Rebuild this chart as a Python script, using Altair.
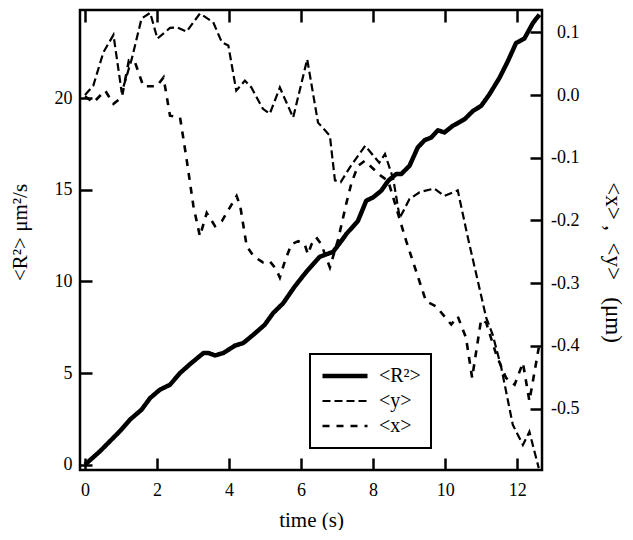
import altair as alt
import pandas as pd

# ---- data ----
t_r2 = [0, 0.42, 0.97, 1.25, 1.57, 1.81, 2.08, 2.36, 2.64, 2.92, 3.29, 3.43, 3.61, 3.84,
        4.17, 4.39, 4.67, 4.99, 5.22, 5.5, 5.82, 6.15, 6.52, 6.89, 7.17, 7.26, 7.58, 7.81,
        8.0, 8.23, 8.42, 8.64, 8.78, 9.01, 9.24, 9.43, 9.61, 9.80, 9.98, 10.21, 10.54,
        10.77, 11.0, 11.23, 11.51, 11.74, 11.97, 12.2, 12.44, 12.62]
r2 = [0, 0.74, 1.83, 2.46, 3.0, 3.64, 4.09, 4.36, 5.0, 5.49, 6.09, 6.09, 5.96, 6.09,
      6.5, 6.63, 7.08, 7.63, 8.26, 8.8, 9.71, 10.53, 11.34, 11.61, 12.34, 12.59, 13.3, 14.4,
      14.58, 14.95, 15.49, 15.85, 15.85, 16.3, 17.3, 17.7, 17.84, 18.24, 18.12, 18.48, 18.84,
      19.29, 19.57, 20.2, 21.1, 22.0, 23.0, 23.24, 24.1, 24.55]

t_y = [0, 0.23, 0.51, 0.79, 1.02, 1.30, 1.57, 1.81, 2.01, 2.36, 2.55, 2.82, 3.19, 3.56,
       3.80, 3.98, 4.2, 4.44, 4.62, 4.94, 5.13, 5.41, 5.78, 6.17, 6.47, 6.8, 6.94, 7.10,
       7.36, 7.78, 8.17, 8.33, 8.56, 8.74, 9.01, 9.29, 9.70, 9.98, 10.35, 10.63, 11.14,
       11.32, 11.56, 11.88, 12.16, 12.34, 12.6]
y_mean = [0.0, 0.015, 0.068, 0.096, 0.004, 0.058, 0.122, 0.131, 0.090, 0.107, 0.108, 0.101,
          0.130, 0.116, 0.084, 0.079, 0.007, 0.023, 0.012, -0.022, -0.030, 0.012, -0.036,
          0.057, -0.044, -0.065, -0.136, -0.139, -0.115, -0.081, -0.108, -0.094, -0.134,
          -0.196, -0.166, -0.155, -0.149, -0.161, -0.152, -0.227, -0.355, -0.382, -0.435,
          -0.526, -0.558, -0.537, -0.595]

t_x = [0, 0.23, 0.56, 0.79, 1.02, 1.22, 1.39, 1.62, 1.99, 2.18, 2.36, 2.64, 2.82, 3.01,
       3.19, 3.38, 3.61, 3.80, 4.21, 4.31, 4.49, 4.68, 4.94, 5.13, 5.31, 5.41, 5.55, 5.73,
       5.92, 6.10, 6.19, 6.29, 6.42, 6.56, 6.80, 7.03, 7.26, 7.40, 7.58, 7.77, 8.22, 8.42,
       8.92, 9.47, 9.75, 10.17, 10.35, 10.58, 10.75, 11.0, 11.14, 11.42, 11.69, 11.93,
       12.16, 12.34, 12.6]
x_mean = [-0.002, -0.012, 0.007, -0.014, -0.004, 0.055, 0.052, 0.014, 0.014, 0.028, -0.033,
          -0.036, -0.102, -0.177, -0.225, -0.188, -0.209, -0.201, -0.161, -0.177, -0.241,
          -0.257, -0.267, -0.265, -0.278, -0.291, -0.265, -0.238, -0.233, -0.238, -0.254,
          -0.238, -0.227, -0.238, -0.275, -0.23, -0.172, -0.140, -0.113, -0.105, -0.129,
          -0.137, -0.233, -0.329, -0.337, -0.366, -0.353, -0.387, -0.451, -0.358, -0.363,
          -0.414, -0.451, -0.462, -0.427, -0.488, -0.403]

series = ["<R²>", "<y>", "<x>"]
x_ticks = [0, 2, 4, 6, 8, 10, 12]
left_ticks = [0, 5, 10, 15, 20]
right_ticks = [0.1, 0.0, -0.1, -0.2, -0.3, -0.4, -0.5]

FONT = "Liberation Serif"

df_r2 = pd.DataFrame({"t": t_r2, "v": r2, "series": series[0]})
df_xy = pd.concat([
    pd.DataFrame({"t": t_y, "v": y_mean, "series": series[1]}),
    pd.DataFrame({"t": t_x, "v": x_mean, "series": series[2]}),
])

x_scale = alt.Scale(domain=[-0.139, 12.69], nice=False, zero=False)
dash = alt.StrokeDash("series:N",
                      scale=alt.Scale(domain=series, range=[[1, 0], [8, 4], [7, 7]]),
                      legend=alt.Legend(title=None))
swidth = alt.StrokeWidth("series:N",
                         scale=alt.Scale(type="ordinal", domain=series, range=[4.5, 2.2, 2.6]),
                         legend=alt.Legend(title=None))

r2_layer = alt.Chart(df_r2).mark_line(color="black", strokeJoin="round").encode(
    x=alt.X("t:Q", scale=x_scale,
            axis=alt.Axis(orient="bottom", values=x_ticks, title="time (s)", offset=-12,
                          tickSize=12, labelPadding=11, titlePadding=10, format="d")),
    y=alt.Y("v:Q", scale=alt.Scale(domain=[-0.29, 24.8], nice=False, zero=False),
            axis=alt.Axis(orient="left", values=left_ticks, title="<R²> μm²/s", offset=-12,
                          tickSize=12, labelPadding=8, titlePadding=24, format="d",
                          titleY=222, titleAlign="center")),
    strokeDash=dash,
    strokeWidth=swidth,
)

xy_layer = alt.Chart(df_xy).mark_line(color="black", strokeCap="butt").encode(
    x=alt.X("t:Q", scale=x_scale,
            axis=alt.Axis(orient="top", values=x_ticks, title=None, labels=False,
                          offset=-12, tickSize=12)),
    y=alt.Y("v:Q", scale=alt.Scale(domain=[-0.598, 0.1356], nice=False, zero=False),
            axis=alt.Axis(orient="right", values=right_ticks,
                          title="<x>\u00a0,\u00a0 <y>\u00a0\u00a0 (μm)",
                          titleFontSize=23,
                          offset=-12, tickSize=12, labelPadding=37, labelAlign="right",
                          titlePadding=21, titleAngle=90, titleY=252,
                          labelExpr="replace(format(datum.value, '.1f'), '−', '-')")),
    strokeDash=dash,
    strokeWidth=swidth,
)

chart = alt.layer(r2_layer, xy_layer).resolve_scale(
    y="independent"
).resolve_axis(
    x="independent", y="independent"
).properties(
    width=462, height=460,
    padding={"left": 72, "top": 2, "right": 83, "bottom": 60},
    autosize="none",
).configure_view(
    stroke="black", strokeWidth=2.5
).configure_axis(
    domain=False, grid=False, tickColor="black", tickWidth=2.5,
    labelColor="black", labelFont=FONT, labelFontSize=18,
    titleColor="black", titleFont=FONT, titleFontSize=21, titleFontWeight="normal",
).configure_legend(
    orient="none", legendX=230, legendY=344, padding=10,
    strokeColor="black", strokeWidth=2, fillColor="white",
    symbolType="stroke", symbolSize=2025, symbolStrokeColor="black", clipHeight=24,
    labelFont=FONT, labelFontSize=20, labelColor="black", labelOffset=9, rowPadding=1,
)

chart.save("out.html", embed_options={"renderer": "svg", "actions": False})
